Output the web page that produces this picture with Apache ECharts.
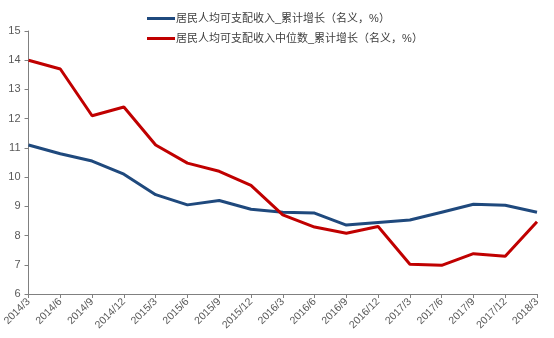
<!DOCTYPE html>
<html><head><meta charset="utf-8">
<script src="https://cdn.jsdelivr.net/npm/echarts@6/dist/echarts.min.js"></script>
<style>html,body{margin:0;padding:0;background:#fff}#c{width:554px;height:338px}</style>
</head><body><div id="c"></div>
<script>
var categories = ['2014/3','2014/6','2014/9','2014/12','2015/3','2015/6','2015/9','2015/12','2016/3','2016/6','2016/9','2016/12','2017/3','2017/6','2017/9','2017/12','2018/3'];
var meanGrowth = [11.1, 10.8, 10.55, 10.1, 9.4, 9.05, 9.2, 8.9, 8.8, 8.77, 8.36, 8.45, 8.53, 8.8, 9.07, 9.04, 8.8];
var medianGrowth = [14.0, 13.7, 12.1, 12.4, 11.1, 10.48, 10.2, 9.72, 8.71, 8.29, 8.08, 8.31, 7.02, 6.98, 7.38, 7.29, 8.47];
var seriesNames = ['居民人均可支配收入_累计增长（名义，%）', '居民人均可支配收入中位数_累计增长（名义，%）'];
var yTicks = {min: 6, max: 15, interval: 1};

var chart = echarts.init(document.getElementById('c'), null, {renderer: 'canvas'});
var fontFam = '"Liberation Sans", Arial, "Noto Sans CJK SC", sans-serif';
chart.setOption({
  animation: false,
  textStyle: {fontFamily: fontFam},
  legend: {
    orient: 'vertical', left: 142, top: 8, itemWidth: 28, itemHeight: 14, itemGap: 9,
    textStyle: {fontSize: 11, color: '#404040', fontFamily: fontFam, padding: [0,0,0,-4]},
    data: [
      {name: seriesNames[0], icon: 'path://M0,0 L28,0 L28,3 L0,3 Z'},
      {name: seriesNames[1], icon: 'path://M0,0 L28,0 L28,3 L0,3 Z'}
    ]
  },
  grid: {left: 27, right: 17, top: 31, bottom: 44, containLabel: false},
  xAxis: {
    type: 'category', data: categories, boundaryGap: false,
    axisLine: {lineStyle: {color: '#808080', width: 1}},
    axisTick: {alignWithLabel: true, length: 4, lineStyle: {color: '#808080'}},
    axisLabel: {rotate: 45, fontSize: 10.5, color: '#595959', margin: 6, interval: 0}
  },
  yAxis: {
    type: 'value', min: yTicks.min, max: yTicks.max, interval: yTicks.interval,
    axisLine: {show: true, lineStyle: {color: '#808080', width: 1}},
    axisTick: {show: true, inside: false, length: 4, lineStyle: {color: '#808080'}},
    splitLine: {show: false},
    axisLabel: {fontSize: 11, color: '#595959', margin: 8}
  },
  series: [
    {name: seriesNames[0], type: 'line', data: meanGrowth, symbol: 'none',
     lineStyle: {color: '#1F497D', width: 3}, itemStyle: {color: '#1F497D'}},
    {name: seriesNames[1], type: 'line', data: medianGrowth, symbol: 'none',
     lineStyle: {color: '#C00000', width: 3}, itemStyle: {color: '#C00000'}}
  ]
});
</script></body></html>
